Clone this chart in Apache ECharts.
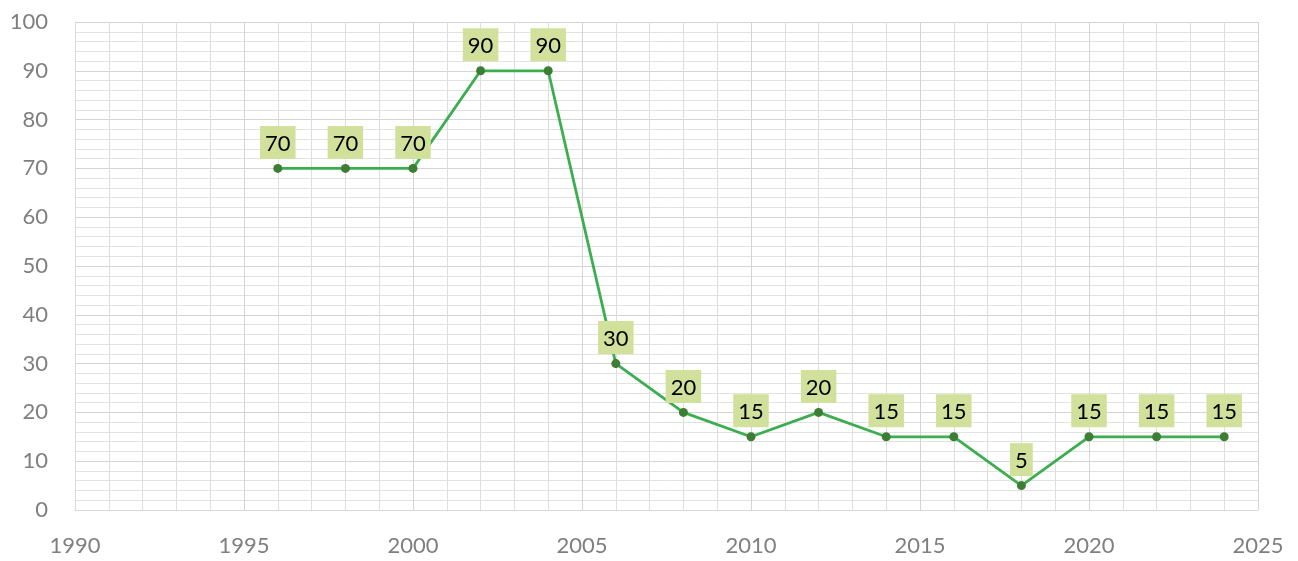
<!DOCTYPE html>
<html>
<head>
<meta charset="utf-8">
<script src="https://cdn.jsdelivr.net/npm/echarts@6/dist/echarts.min.js"></script>
<style>
  html, body { margin: 0; padding: 0; background: #ffffff; }
  #chart { width: 1298px; height: 561px; }
</style>
</head>
<body>
<div id="chart"></div>
<script>
// Years and values of the series
const years = [1996, 1998, 2000, 2002, 2004, 2006, 2008, 2010, 2012, 2014, 2016, 2018, 2020, 2022, 2024];
const values = [70, 70, 70, 90, 90, 30, 20, 15, 20, 15, 15, 5, 15, 15, 15];

// Axis ranges
const xRange = [1990, 2025];
const yRange = [0, 100];

const points = years.map((y, i) => [y, values[i]]);

const chart = echarts.init(document.getElementById('chart'), null, { renderer: 'canvas' });

const font = 'Lato, "Open Sans", "Liberation Sans", sans-serif';

chart.setOption({
  animation: false,
  backgroundColor: '#ffffff',
  grid: { left: 75, right: 40, top: 22, bottom: 51, containLabel: false },
  xAxis: {
    type: 'value',
    min: xRange[0],
    max: xRange[1],
    interval: 5,
    axisLine: { show: true, lineStyle: { color: '#d9d9d9', width: 1 } },
    axisTick: { show: false },
    axisLabel: {
      color: '#7f7f7f', fontSize: 22, fontFamily: font, margin: 25,
      formatter: v => String(v)
    },
    splitLine: { show: true, lineStyle: { color: '#d4d4d4', width: 1 } },
    minorTick: { show: false, splitNumber: 5 },
    minorSplitLine: { show: true, lineStyle: { color: '#dedede', width: 1 } }
  },
  yAxis: {
    type: 'value',
    min: yRange[0],
    max: yRange[1],
    interval: 10,
    axisLine: { show: true, lineStyle: { color: '#d9d9d9', width: 1 } },
    axisTick: { show: false },
    axisLabel: { color: '#7f7f7f', fontSize: 22, fontFamily: font, margin: 27 },
    splitLine: { show: true, lineStyle: { color: '#d4d4d4', width: 1 } },
    minorTick: { show: false, splitNumber: 5 },
    minorSplitLine: { show: true, lineStyle: { color: '#e2e2e2', width: 1 } }
  },
  series: [{
    type: 'line',
    data: points,
    symbol: 'circle',
    symbolSize: 9,
    itemStyle: { color: '#3e7d34' },
    lineStyle: { color: '#3cae4f', width: 2.8 },
    label: {
      show: true,
      position: 'top',
      distance: 5,
      color: '#000000',
      fontSize: 22,
      fontFamily: font,
      backgroundColor: '#d1e19c',
      padding: [7, 5, 4, 5],
      formatter: p => String(p.value[1])
    },
    z: 3
  }]
});
</script>
</body>
</html>
